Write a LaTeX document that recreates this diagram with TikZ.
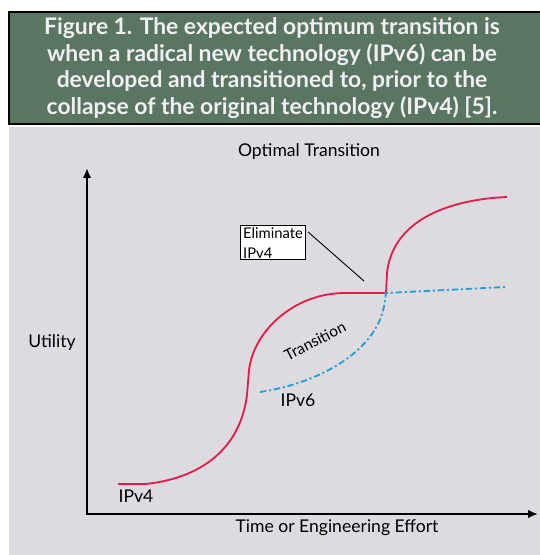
\documentclass[tikz,border=0pt]{standalone}
\usepackage{fontspec}
\setmainfont{Lato}
\usetikzlibrary{arrows.meta}
\definecolor{bannergreen}{RGB}{90,118,99}
\definecolor{panelgray}{RGB}{221,219,223}
\definecolor{curvered}{RGB}{232,26,74}
\definecolor{curveblue}{RGB}{32,160,215}
\tikzset{
  axisline/.style={line width=3pt, -{Latex[length=14pt,width=12pt]}},
  oldtech/.style={curvered, line width=2.6pt},
  newtech/.style={curveblue, line width=2.6pt, dash pattern=on 9pt off 4pt on 3pt off 4pt},
  plotlabel/.style={font=\fontsize{25}{29}\selectfont, inner sep=0pt},
}
\begin{document}
\begin{tikzpicture}[x=0.5mm, y=-0.5mm]
  \useasboundingbox (0,0) rectangle (540,555);
  % Banner and panel
  \fill[panelgray] (9,127) rectangle (540,555);
  \draw[fill=bannergreen, line width=2.5pt] (9,12) rectangle (541,124);
  \node[text=white!94!black, align=center, font=\bfseries\fontsize{32.5}{38}\selectfont] (caption) at (272,68)
    {Figure 1. The expected optimum transition is\\
     when a radical new technology (IPv6) can be\\
     developed and transitioned to, prior to the\\
     collapse of the original technology (IPv4) [5].};
  % Axes
  \coordinate (origin) at (87,514);
  \coordinate (ytop) at (87,168);
  \coordinate (xend) at (538,514);
  \draw[axisline] (origin) -- (ytop);
  \draw[axisline] ([xshift=-1.5pt]origin) -- (xend);
  \node[plotlabel] (title) at (309,152) {Optimal Transition};
  \node[plotlabel] (ylab) at (52,343) {Utility};
  \node[plotlabel] (xlab) at (337,528) {Time or Engineering Effort};
  % IPv4 curve
  \draw[oldtech] (118,484) -- (146,484)
    .. controls (200,478) and (240,450) .. (247,395) -- (249,370)
    .. controls (254,330) and (295,293) .. (345,293) -- (386,293)
    coordinate (switch) -- (387,273)
    .. controls (392,225) and (440,200) .. (507,197);
  % IPv6 curve
  \draw[newtech] (260,392) .. controls (320,383) and (380,350) .. (385,300)
    -- (switch) -- (446,290) -- (505,287);
  % Labels
  \node[plotlabel] (ipv4) at (136,496) {IPv4};
  \node[plotlabel] (ipv6) at (298,400) {IPv6};
  \node[plotlabel, font=\fontsize{22}{26}\selectfont, rotate=27] (trans) at (315,341) {Transition};
  \node[draw, fill=white, line width=2pt, align=left, inner xsep=3.5pt, inner ysep=2.5pt, anchor=north west,
        font=\fontsize{21}{28}\selectfont] (elim) at (240,225) {Eliminate\\IPv4};
  \coordinate (pointer) at (364,281);
  \draw[line width=1.3pt] ([xshift=3pt,yshift=-10pt]elim.north east) -- (pointer);
\end{tikzpicture}
\end{document}
